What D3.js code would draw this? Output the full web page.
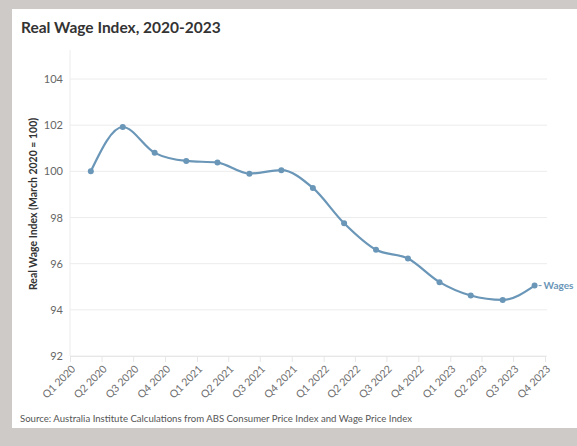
<!DOCTYPE html>
<html>
<head>
<meta charset="utf-8">
<script src="https://cdn.jsdelivr.net/npm/d3@7"></script>
<style>
  html, body { margin: 0; padding: 0; background: #cdcac8; }
  svg { display: block; }
  text { font-family: "Source Sans Pro", Lato, "Open Sans", sans-serif; }
</style>
</head>
<body>
<svg id="chart" width="577" height="446"></svg>
<script>
// ---- data ----
const dates = ["2020-03-01","2020-06-01","2020-09-01","2020-12-01",
               "2021-03-01","2021-06-01","2021-09-01","2021-12-01",
               "2022-03-01","2022-06-01","2022-09-01","2022-12-01",
               "2023-03-01","2023-06-01","2023-09-01"];
const wages = [100.0, 101.92, 100.8, 100.45, 100.38, 99.9, 100.05, 99.28,
               97.75, 96.6, 96.22, 95.2, 94.62, 94.43, 95.05];
const tickDates = ["2020-01-01","2020-04-01","2020-07-01","2020-10-01",
                   "2021-01-01","2021-04-01","2021-07-01","2021-10-01",
                   "2022-01-01","2022-04-01","2022-07-01","2022-10-01",
                   "2023-01-01","2023-04-01","2023-07-01","2023-10-01"];
const tickLabels = ["Q1 2020","Q2 2020","Q3 2020","Q4 2020",
                    "Q1 2021","Q2 2021","Q3 2021","Q4 2021",
                    "Q1 2022","Q2 2022","Q3 2022","Q4 2022",
                    "Q1 2023","Q2 2023","Q3 2023","Q4 2023"];
const yTicks = [92, 94, 96, 98, 100, 102, 104];
const seriesName = "Wages";
const title = "Real Wage Index, 2020-2023";
const yTitle = "Real Wage Index (March 2020 = 100)";
const source = "Source: Australia Institute Calculations from ABS Consumer Price Index and Wage Price Index";

const parse = d3.timeParse("%Y-%m-%d");
const data = dates.map((d, i) => ({ date: parse(d), value: wages[i] }));
const ticks = tickDates.map(parse);

const svg = d3.select("#chart");
const color = "#6a96b8";

// panel
svg.append("rect").attr("x", 12).attr("y", 9).attr("width", 565).attr("height", 419).attr("fill", "#fff");

const x = d3.scaleTime().domain([ticks[0], ticks[ticks.length - 1]]).range([70, 545]);
const y = d3.scaleLinear().domain([92, 104]).range([356, 79]);
const plotTop = 50, plotRight = 547;

// gridlines
svg.append("g").selectAll("line").data(yTicks).join("line")
  .attr("x1", 70).attr("x2", plotRight)
  .attr("y1", d => y(d)).attr("y2", d => y(d))
  .attr("stroke", "#ececec").attr("stroke-width", 1);

// left axis line
svg.append("line").attr("x1", 70).attr("x2", 70).attr("y1", plotTop).attr("y2", 356)
  .attr("stroke", "#ececec");

// y labels
const yAxis = d3.axisLeft(y).tickValues(yTicks).tickSize(0).tickPadding(7);
const gy = svg.append("g").attr("transform", "translate(70,0)").call(yAxis);
gy.select(".domain").remove();
gy.selectAll("text").attr("fill", "#666").attr("font-size", 11)
  .style("font-family", "\"Source Sans Pro\", Lato, sans-serif");

// x axis
const xAxis = d3.axisBottom(x).tickValues(ticks).tickSize(6).tickFormat((d, i) => tickLabels[i]);
const gx = svg.append("g").attr("transform", "translate(0,356)").call(xAxis);
gx.select(".domain").attr("stroke", "#e6e6e6");
gx.selectAll(".tick line").attr("stroke", "#e6e6e6");
gx.selectAll("text")
  .attr("fill", "#6e6e6e").attr("font-size", 10.5)
  .style("font-family", "\"Source Sans Pro\", Lato, sans-serif")
  .attr("text-anchor", "end")
  .attr("x", 0).attr("y", 0).attr("dy", "0.35em")
  .attr("transform", "translate(3,11) rotate(-45)");

// line
const line = d3.line().x(d => x(d.date)).y(d => y(d.value)).curve(d3.curveMonotoneX);
svg.append("path").datum(data).attr("d", line)
  .attr("fill", "none").attr("stroke", color).attr("stroke-width", 2.2);

svg.append("g").selectAll("circle").data(data).join("circle")
  .attr("cx", d => x(d.date)).attr("cy", d => y(d.value)).attr("r", 3)
  .attr("fill", color);

// series label
const last = data[data.length - 1];
svg.append("line")
  .attr("x1", x(last.date) + 4).attr("x2", x(last.date) + 7)
  .attr("y1", y(last.value)).attr("y2", y(last.value))
  .attr("stroke", color).attr("stroke-width", 1);
svg.append("text").attr("x", x(last.date) + 9).attr("y", y(last.value)).attr("dy", "0.35em")
  .attr("fill", color).attr("font-size", 10).attr("font-weight", "bold").text(seriesName);

// title
svg.append("text").attr("x", 21).attr("y", 33).attr("fill", "#333")
  .attr("font-size", 15.5).attr("font-weight", "bold").text(title);

// y title
svg.append("text").attr("transform", "translate(37,204) rotate(-90)")
  .attr("text-anchor", "middle").attr("fill", "#333")
  .attr("font-size", 10.5).attr("font-weight", "bold").text(yTitle);

// source
svg.append("text").attr("x", 20).attr("y", 422).attr("fill", "#555")
  .attr("font-size", 9.6).text(source);
</script>
</body>
</html>
